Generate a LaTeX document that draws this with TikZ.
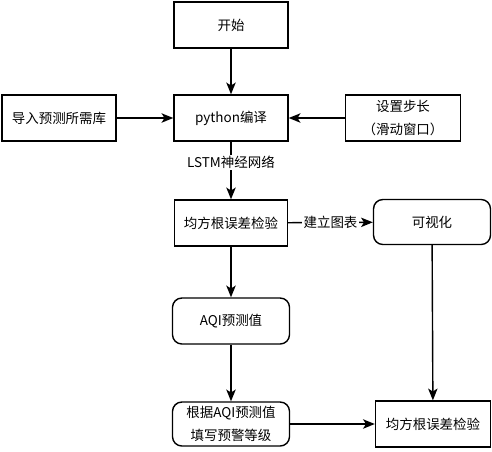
\documentclass[tikz,border=0pt]{standalone}
\usepackage{fontspec}
\setmainfont{Noto Sans CJK SC}
\usetikzlibrary{arrows.meta, positioning}
\definecolor{black1}{RGB}{0, 0, 0}

\begin{document}
\begin{tikzpicture}[
    box/.style={
      rectangle, draw=black1, line width=1.2pt, fill=white,
      minimum width=#1, minimum height=13.8mm,
      font=\fontsize{11.5}{19.5}\selectfont, align=center, inner sep=1pt
    },
    box/.default=34.2mm,
    rbox/.style={box=35.1mm, rounded corners=8pt},
    arr/.style={-{Stealth[length=10pt, width=8pt, inset=2.5pt]}, line width=1.2pt, black1},
    lbl/.style={font=\fontsize{11.5}{15}\selectfont, fill=white, inner sep=1pt},
  ]
  \useasboundingbox (0,0) rectangle (14.76,-13.53);

  % Steps
  \node[box] (start) at (6.93, -0.75) {开始};
  \node[box] (python) at (6.93, -3.54) {python编译};
  \node[box] (libs) at (1.77, -3.54) {导入预测所需库};
  \node[box=34.5mm] (window) at (12.09, -3.54) {设置步长\\（滑动窗口）};
  \node[box=33.9mm] (rmse) at (6.93, -6.69) {均方根误差检验};
  \node[rbox, minimum height=13.5mm] (vis) at (12.96, -6.66) {可视化};
  \node[rbox] (aqi) at (6.93, -9.63) {AQI预测值};
  \node[rbox, minimum height=13.2mm] (level) at (6.93, -12.72) {根据AQI预测值\\填写预警等级};
  \node[box=34.5mm] (check) at (12.99, -12.72) {均方根误差检验};

  % Arrows
  \draw[arr] (start) -- (python);
  \draw[arr] (libs) -- (python);
  \draw[arr] (window) -- (python);
  \draw[arr] (python) -- node[lbl, pos=0.36] {LSTM神经网络} (rmse);
  \draw[arr] (rmse) -- node[lbl] {建立图表} (vis);
  \draw[arr] (rmse) -- (aqi);
  \draw[arr] (aqi) -- (level);
  \draw[arr] (vis) -- (check);
  \draw[arr] (level) -- (check);

\end{tikzpicture}
\end{document}
